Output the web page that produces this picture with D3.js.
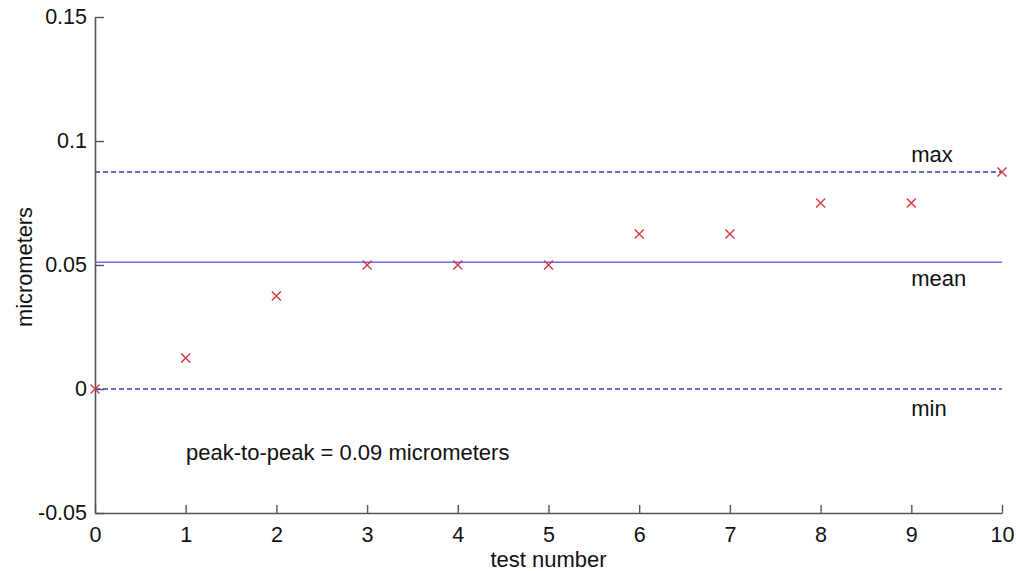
<!DOCTYPE html>
<html>
<head>
<meta charset="utf-8">
<script src="https://cdnjs.cloudflare.com/ajax/libs/d3/7.8.5/d3.min.js"></script>
<style>
  body { margin: 0; background: #fff; }
  svg text { font-family: "Liberation Sans", Arial, sans-serif; fill: #111; }
</style>
</head>
<body>
<svg width="1016" height="571"></svg>
<script>
var testNumbers = [0, 1, 2, 3, 4, 5, 6, 7, 8, 9, 10];
var values = [0, 0.0125, 0.0375, 0.05, 0.05, 0.05, 0.0625, 0.0625, 0.075, 0.075, 0.0875];
var yTicks = [-0.05, 0, 0.05, 0.1, 0.15];
var yTickLabels = ["-0.05", "0", "0.05", "0.1", "0.15"];

var svg = d3.select("svg");

var x = d3.scaleLinear().domain([0, 10]).range([95, 1002]),
    y = d3.scaleLinear().domain([-0.05, 0.15]).range([513, 17]);

var vmax = d3.max(values),
    vmin = d3.min(values),
    vmean = d3.mean(values);

// axes, ticks pointing inward
var xAxis = svg.append("g")
    .attr("transform", "translate(0," + y(-0.05) + ")")
    .call(d3.axisBottom(x).tickValues(testNumbers).tickSizeInner(-8).tickSizeOuter(0).tickPadding(11));
var yAxis = svg.append("g")
    .attr("transform", "translate(" + x(0) + ",0)")
    .call(d3.axisLeft(y).tickValues(yTicks).tickFormat(function(d, i) { return yTickLabels[i]; })
      .tickSizeInner(-9).tickSizeOuter(0).tickPadding(8));

[xAxis, yAxis].forEach(function(a) {
  a.select(".domain").attr("stroke", "#555").attr("stroke-width", 1.6);
  a.selectAll(".tick line").attr("stroke", "#555").attr("stroke-width", 1.4);
  a.selectAll(".tick text").attr("font-size", 21.5).attr("fill", "#111")
    .attr("font-family", "Liberation Sans, Arial, sans-serif");
});
xAxis.selectAll(".tick text").attr("dy", "0.85em");

// reference lines
function hline(v, dash, color) {
  svg.append("line")
    .attr("x1", x(0)).attr("x2", x(10))
    .attr("y1", y(v)).attr("y2", y(v))
    .attr("stroke", color).attr("stroke-width", 1.4)
    .attr("stroke-dasharray", dash);
}
hline(vmax, "5,3", "#3b3bbf");
hline(vmin, "5,3", "#3b3bbf");
hline(vmean, null, "#6a6af2");

// markers
var s = 4.5;
svg.append("g").selectAll("path")
  .data(values)
  .enter().append("path")
  .attr("d", function(d, i) {
    var cx = x(testNumbers[i]), cy = y(d);
    return "M" + (cx - s) + "," + (cy - s) + "L" + (cx + s) + "," + (cy + s) +
           "M" + (cx - s) + "," + (cy + s) + "L" + (cx + s) + "," + (cy - s);
  })
  .attr("stroke", "#d9363e").attr("stroke-width", 1.4).attr("fill", "none");

// labels
svg.append("text").attr("x", x(9)).attr("y", y(vmax) - 10).attr("font-size", 22).text("max");
svg.append("text").attr("x", x(9)).attr("y", y(vmean) + 24).attr("font-size", 22).text("mean");
svg.append("text").attr("x", x(9)).attr("y", y(vmin) + 27).attr("font-size", 22).text("min");

svg.append("text").attr("x", 186).attr("y", 460).attr("font-size", 22)
  .text("peak-to-peak = " + d3.format(".2f")(vmax - vmin) + " micrometers");

svg.append("text").attr("x", (x(0) + x(10)) / 2).attr("y", 567)
  .attr("text-anchor", "middle").attr("font-size", 22).text("test number");

svg.append("text")
  .attr("transform", "translate(32,267) rotate(-90)")
  .attr("text-anchor", "middle").attr("font-size", 22)
  .attr("textLength", 120).attr("lengthAdjust", "spacingAndGlyphs")
  .text("micrometers");
</script>
</body>
</html>
